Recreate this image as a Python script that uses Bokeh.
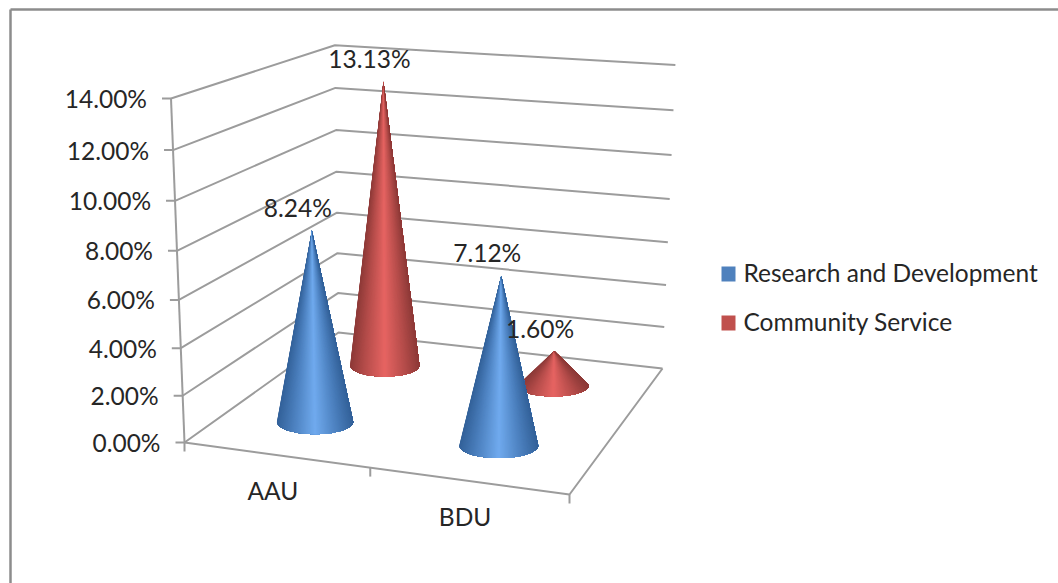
import numpy as np
from bokeh.core.properties import value
from bokeh.embed import file_html
from bokeh.plotting import figure
from bokeh.resources import INLINE

# Chart values
categories = ["AAU", "BDU"]
research = [8.24, 7.12]
community = [13.13, 1.60]
series_names = ["Research and Development", "Community Service"]
axis_ticks = [0, 2, 4, 6, 8, 10, 12, 14]

W, H = 1058, 583
FONT = value("Lato")
FONT_SIZE = "24.5px"
GRID = "#9c9c9c"
GRID_WIDTH = 2
TEXT = "#262626"
SWATCH = ["#4F81BD", "#C0504D"]
# dark edge, mid tone and highlight of each cone's shading
SHADES = [((52, 98, 154), (74, 126, 188), (112, 170, 238)),
          ((142, 58, 56), (180, 76, 74), (230, 100, 98))]

# Perspective of the chart box: floor corners on screen and the point where
# the vertical edges meet.
FLOOR = {(0, 0): (184, 442), (1, 0): (569, 494), (1, 1): (662, 368), (0, 1): (338, 332)}
VANISH = (412, 6253)
TOP_LEFT_Y = 98
AXIS_MAX = 14


def floor_homography():
    rows, rhs = [], []
    for (u, z), (x, y) in FLOOR.items():
        rows.append([u, z, 1, 0, 0, 0, -u * x, -z * x]); rhs.append(x)
        rows.append([0, 0, 0, u, z, 1, -u * y, -z * y]); rhs.append(y)
    return np.append(np.linalg.solve(np.array(rows, float), np.array(rhs, float)), 1).reshape(3, 3)


HOMO = floor_homography()
LIFT = (TOP_LEFT_Y - FLOOR[(0, 0)][1]) / (AXIS_MAX * (VANISH[1] - TOP_LEFT_Y))


def project(u, z, v=0.0):
    """Screen position of category position u, depth z and axis value v."""
    X, Y, w = HOMO @ np.array([u, z, 1.0])
    X += v * LIFT * VANISH[0]
    Y += v * LIFT * VANISH[1]
    w += v * LIFT
    return X / w, Y / w


def depth_scale(u, z):
    return 1.0 / (HOMO @ np.array([u, z, 1.0]))[2]


def mix(a, b, t):
    return tuple(int(round(a[i] + (b[i] - a[i]) * t)) for i in range(3))


def shade(palette, t):
    dark, mid, light = palette
    t = abs(t)
    if t < 0.6:
        c = mix(light, mid, t / 0.6)
    else:
        c = mix(mid, dark, (t - 0.6) / 0.4)
    return "#%02x%02x%02x" % c


p = figure(width=W, height=H, x_range=(0, W), y_range=(H, 0),
           toolbar_location=None, output_backend="svg", min_border=0,
           x_axis_location=None, y_axis_location=None,
           background_fill_color="white", border_fill_color="white",
           outline_line_color=None)
p.xgrid.visible = False
p.ygrid.visible = False

# Outer chart border: only its top and left edges fall inside the page
p.multi_line([[10, 10], [10, W]], [[H, 9], [9, 9]], line_color="#8c8c8c", line_width=2.5)

# Walls and floor of the box
wall_x, wall_y = [], []
for v in axis_ticks:
    pts = [project(0, 0, v), project(0, 1, v), project(1, 1, v)]
    wall_x.append([q[0] for q in pts])
    wall_y.append([q[1] for q in pts])
floor_edges = [(0, 0), (1, 0), (1, 1)]
wall_x.append([project(*q)[0] for q in floor_edges])
wall_y.append([project(*q)[1] for q in floor_edges])
p.multi_line(wall_x, wall_y, line_color=GRID, line_width=GRID_WIDTH)

# Value axis with its ticks
axis_pts = [project(0, 0, 0), project(0, 0, AXIS_MAX)]
p.line([q[0] for q in axis_pts], [q[1] for q in axis_pts], line_color=GRID, line_width=GRID_WIDTH)
TICK = 9
tick_pts = [project(0, 0, v) for v in axis_ticks]
p.segment([q[0] - TICK for q in tick_pts], [q[1] for q in tick_pts],
          [q[0] for q in tick_pts], [q[1] for q in tick_pts], line_color=GRID, line_width=GRID_WIDTH)
p.text([q[0] - 24 for q in tick_pts], [q[1] for q in tick_pts],
       text=[f"{v:.2f}%" for v in axis_ticks], text_font=FONT, text_font_size=FONT_SIZE,
       text_color=TEXT, text_align="right", text_baseline="middle")

# Category ticks and labels
cat_ticks = [project(u, 0) for u in (0, 0.5, 1)]
p.segment([q[0] for q in cat_ticks], [q[1] for q in cat_ticks],
          [q[0] for q in cat_ticks], [q[1] + 9 for q in cat_ticks], line_color=GRID, line_width=GRID_WIDTH)
cat_pos = [project(0.25 + 0.5 * i, 0) for i in range(len(categories))]
p.text([q[0] - 3 for q in cat_pos], [q[1] + 36 for q in cat_pos], text=categories,
       text_font=FONT, text_font_size=FONT_SIZE, text_color=TEXT,
       text_align="center", text_baseline="middle")

# Cones, back row first so the front row overlaps it.  Each polygon covers the
# rest of the surface still to its right, so neighbouring tones leave no seams.
BASE_RADIUS = 39.5
FLATTEN = 0.32
STRIPS = 90
series = [research, community]
depth_of_series = [0.25, 0.75]
label_items = []
for s in (1, 0):
    for i, val in enumerate(series[s]):
        u, z = 0.247 + 0.5 * i, depth_of_series[s]
        cx, cy = project(u, z)
        tx, ty = project(u, z, val)
        rx = BASE_RADIUS * depth_scale(u, z)
        ry = rx * FLATTEN
        angles = np.linspace(np.pi, 0, STRIPS + 1)
        arc_x = cx + rx * np.cos(angles)
        arc_y = cy + ry * np.sin(angles)
        xs, ys, colors = [], [], []
        for k in range(STRIPS):
            xs.append([tx] + arc_x[k:].tolist())
            ys.append([ty] + arc_y[k:].tolist())
            colors.append(shade(SHADES[s], np.cos((angles[k] + angles[k + 1]) / 2)))
        p.patches(xs, ys, fill_color=colors, line_color=None)
        label_items.append((tx, ty, val))

# Data labels sit up and to the left of each cone tip
for tx, ty, val in label_items:
    p.text([tx - 14], [ty - 23], text=[f"{val:.2f}%"], text_font=FONT, text_font_size=FONT_SIZE,
           text_color=TEXT, text_align="center", text_baseline="middle")

# Legend
LEG_X, LEG_Y, LEG_STEP = 721, 273.5, 49
for k, name in enumerate(series_names):
    p.quad([LEG_X], [LEG_X + 14], [LEG_Y + LEG_STEP * k + 7.5], [LEG_Y + LEG_STEP * k - 7.5],
           fill_color=SWATCH[k], line_color=None)
    p.text([LEG_X + 22], [LEG_Y + LEG_STEP * k - 1.5], text=[name], text_font=FONT,
           text_font_size=FONT_SIZE, text_color=TEXT, text_align="left", text_baseline="middle")

open("out.html", "w").write(file_html(p, INLINE))
